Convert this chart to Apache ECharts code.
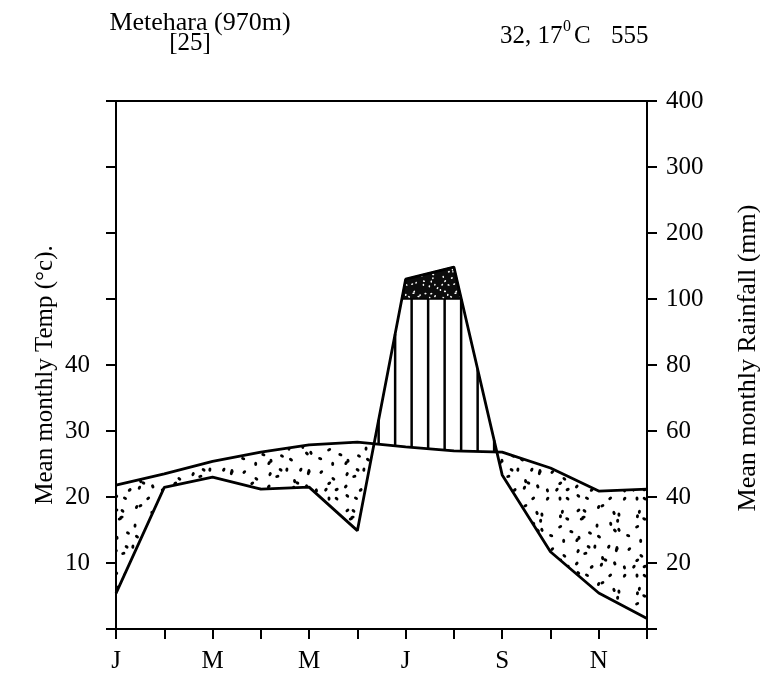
<!DOCTYPE html>
<html>
<head>
<meta charset="utf-8">
<title>Metehara climate diagram</title>
<script src="https://cdn.jsdelivr.net/npm/echarts@6/dist/echarts.min.js"></script>
<style>
  html, body { margin: 0; padding: 0; background: #fff; }
  #chart { width: 760px; height: 675px; }
</style>
</head>
<body>
<div id="chart"></div>
<script>
// Monthly climate normals, Metehara (970 m)
const months = ['Jan', 'Feb', 'Mar', 'Apr', 'May', 'Jun', 'Jul', 'Aug', 'Sep', 'Oct', 'Nov', 'Dec'];
const monthLabels = ['J', '', 'M', '', 'M', '', 'J', '', 'S', '', 'N', ''];
const temperature = [21.8, 23.5, 25.4, 26.8, 27.9, 28.3, 27.6, 27.0, 26.8, 24.4, 20.9, 21.2]; // °C
const rainfall = [10.8, 42.9, 46.0, 42.4, 43.0, 29.8, 130, 148.5, 46.7, 23.4, 10.9, 3.2];      // mm
const tempTickLabels = ['10', '20', '30', '40'];
const rainTickLabels = ['20', '40', '60', '80', '100', '200', '300', '400'];

const FONT = '"Liberation Serif", "DejaVu Serif", serif';

// Walter-Lieth scale: 10 °C = 20 mm up to 100 mm, then 10 °C = 100 mm
function rainToScale(r) {
  return r <= 100 ? r / 2 : 50 + (r - 100) / 10;
}
const rainScaled = rainfall.map(rainToScale);
const CAP = rainToScale(100);

// Textures: jittered dot grid, wrapped so the tile repeats seamlessly
function stippleCanvas(size, cell, dotColor, bg, rx, ry, seed) {
  const c = document.createElement('canvas');
  c.width = size; c.height = size;
  const g = c.getContext('2d');
  if (bg) { g.fillStyle = bg; g.fillRect(0, 0, size, size); }
  g.fillStyle = dotColor;
  let s = seed;
  const next = () => { s = (s * 16807) % 2147483647; return s / 2147483647; };
  for (let gx = 0; gx < size; gx += cell) {
    for (let gy = 0; gy < size; gy += cell) {
      const x = gx + next() * cell, y = gy + next() * cell, a = next() * Math.PI;
      for (const dx of [-size, 0, size]) {
        for (const dy of [-size, 0, size]) {
          g.beginPath();
          g.ellipse(x + dx, y + dy, rx, ry, a, 0, Math.PI * 2);
          g.fill();
        }
      }
    }
  }
  return c;
}
const dryTexture = stippleCanvas(77, 11, '#000', null, 1.5, 2.1, 12345);
const wetTexture = stippleCanvas(42, 6, '#fff', '#0c0c0c', 0.8, 1.1, 777);

// Break the year into pieces where temperature/rain order and the 100 mm cap do not change
function buildSamples() {
  const pts = [];
  const lerp = (a, b, f) => a + (b - a) * f;
  for (let i = 0; i < 12; i++) {
    pts.push({ x: i, t: temperature[i], r: rainScaled[i] });
    if (i === 11) break;
    const cuts = [];
    const d0 = rainScaled[i] - temperature[i], d1 = rainScaled[i + 1] - temperature[i + 1];
    if (d0 * d1 < 0) cuts.push(d0 / (d0 - d1));
    const e0 = rainScaled[i] - CAP, e1 = rainScaled[i + 1] - CAP;
    if (e0 * e1 < 0) cuts.push(e0 / (e0 - e1));
    cuts.sort((a, b) => a - b).forEach(f => {
      pts.push({
        x: i + f,
        t: lerp(temperature[i], temperature[i + 1], f),
        r: lerp(rainScaled[i], rainScaled[i + 1], f)
      });
    });
  }
  return pts;
}

function runs(pts, test) {
  const out = [];
  let cur = null;
  for (let k = 0; k < pts.length - 1; k++) {
    const a = pts[k], b = pts[k + 1];
    const mid = { t: (a.t + b.t) / 2, r: (a.r + b.r) / 2 };
    if (test(mid)) {
      if (!cur) { cur = [a]; out.push(cur); }
      cur.push(b);
    } else {
      cur = null;
    }
  }
  return out;
}

function interpY(chain, px) {
  for (let k = 0; k < chain.length - 1; k++) {
    const a = chain[k], b = chain[k + 1];
    if (px >= a[0] && px <= b[0]) {
      const f = b[0] === a[0] ? 0 : (px - a[0]) / (b[0] - a[0]);
      return a[1] + (b[1] - a[1]) * f;
    }
  }
  return null;
}

function renderSeasons(params, api) {
  const pts = buildSamples();
  const children = [];
  const P = (x, y) => api.coord([x, y]);

  // dry season: temperature above rain -> stipple
  runs(pts, m => m.t > m.r).forEach(run => {
    const top = run.map(p => P(p.x, p.t));
    const bot = run.map(p => P(p.x, p.r)).reverse();
    children.push({
      type: 'polygon',
      shape: { points: top.concat(bot) },
      style: { fill: { image: dryTexture, repeat: 'repeat' }, stroke: null }
    });
  });

  // humid season below 100 mm -> vertical hatching
  const step = 16.5;
  const phase = P(6, 0)[0] + 6;
  runs(pts, m => m.r > m.t).forEach(run => {
    const top = run.map(p => P(p.x, Math.min(p.r, CAP)));
    const bot = run.map(p => P(p.x, p.t));
    const x0 = top[0][0], x1 = top[top.length - 1][0];
    let px = phase - Math.ceil((phase - x0) / step) * step;
    for (; px <= x1; px += step) {
      if (px < x0) continue;
      const yt = interpY(top, px), yb = interpY(bot, px);
      if (yt === null || yb === null) continue;
      children.push({
        type: 'line',
        shape: { x1: px, y1: yb, x2: px, y2: yt },
        style: { stroke: '#000', lineWidth: 2.5 }
      });
    }
  });

  // rain above 100 mm -> solid dark fill
  runs(pts, m => m.r > CAP).forEach(run => {
    const top = run.map(p => P(p.x, p.r));
    const bot = run.map(p => P(p.x, CAP)).reverse();
    children.push({
      type: 'polygon',
      shape: { points: top.concat(bot) },
      style: { fill: { image: wetTexture, repeat: 'repeat' }, stroke: '#000', lineWidth: 1.5 }
    });
  });

  return { type: 'group', children };
}

const axisLine = { show: true, lineStyle: { color: '#000', width: 2 } };
const axisTick = { show: true, inside: false, length: 10, lineStyle: { color: '#000', width: 2 } };
const labelStyle = { color: '#000', fontFamily: FONT, fontSize: 25 };

const chart = echarts.init(document.getElementById('chart'), null, { renderer: 'canvas' });
chart.setOption({
  animation: false,
  backgroundColor: '#fff',
  grid: {
    left: 116, right: 113, top: 101, bottom: 46,
    show: true, borderColor: '#000', borderWidth: 2, backgroundColor: 'transparent'
  },
  xAxis: {
    type: 'value', min: 0, max: 11, interval: 1,
    axisLine, axisTick,
    splitLine: { show: false },
    axisLabel: Object.assign({}, labelStyle, {
      margin: 20,
      showMinLabel: true, showMaxLabel: true,
      formatter: v => monthLabels[v] || ''
    })
  },
  yAxis: [
    {
      type: 'value', min: 0, max: 80, interval: 10, position: 'left',
      axisLine, axisTick,
      splitLine: { show: false },
      axisLabel: Object.assign({}, labelStyle, {
        margin: 26,
        formatter: v => (v >= 10 && v <= 40) ? tempTickLabels[v / 10 - 1] : ''
      })
    },
    {
      type: 'value', min: 0, max: 80, interval: 10, position: 'right',
      axisLine, axisTick,
      splitLine: { show: false },
      axisLabel: Object.assign({}, labelStyle, {
        margin: 19,
        formatter: v => v > 0 ? rainTickLabels[v / 10 - 1] : ''
      })
    }
  ],
  series: [
    {
      name: 'seasons',
      type: 'custom',
      renderItem: renderSeasons,
      data: [[0, 0]],
      clip: true,
      silent: true,
      z: 1
    },
    {
      name: 'Mean monthly Temp',
      type: 'line',
      data: months.map((m, i) => [i, temperature[i]]),
      symbol: 'none',
      lineStyle: { color: '#000', width: 2.8 },
      z: 3
    },
    {
      name: 'Mean monthly Rainfall',
      type: 'line',
      data: months.map((m, i) => [i, rainScaled[i]]),
      symbol: 'none',
      lineStyle: { color: '#000', width: 2.8 },
      z: 3
    }
  ],
  graphic: [
    { type: 'text', x: 200, y: 23, style: { text: 'Metehara (970m)', font: '26px ' + FONT, fill: '#000', textAlign: 'center', textVerticalAlign: 'middle', align: 'center', verticalAlign: 'middle' } },
    { type: 'text', x: 190, y: 43, style: { text: '[25]', font: '25px ' + FONT, fill: '#000', textAlign: 'center', textVerticalAlign: 'middle', align: 'center', verticalAlign: 'middle' } },
    { type: 'text', x: 500, y: 36, style: { text: '32, 17', font: '25px ' + FONT, fill: '#000', textAlign: 'left', textVerticalAlign: 'middle', align: 'left', verticalAlign: 'middle' } },
    { type: 'text', x: 563, y: 27, style: { text: '0', font: '16px ' + FONT, fill: '#000', textAlign: 'left', textVerticalAlign: 'middle', align: 'left', verticalAlign: 'middle' } },
    { type: 'text', x: 574, y: 36, style: { text: 'C', font: '25px ' + FONT, fill: '#000', textAlign: 'left', textVerticalAlign: 'middle', align: 'left', verticalAlign: 'middle' } },
    { type: 'text', x: 611, y: 36, style: { text: '555', font: '25px ' + FONT, fill: '#000', textAlign: 'left', textVerticalAlign: 'middle', align: 'left', verticalAlign: 'middle' } },
    { type: 'text', x: 45, y: 375, rotation: Math.PI / 2, style: { text: 'Mean monthly Temp (°c).', font: '25px ' + FONT, fill: '#000', textAlign: 'center', textVerticalAlign: 'middle', align: 'center', verticalAlign: 'middle' } },
    { type: 'text', x: 748, y: 358, rotation: Math.PI / 2, style: { text: 'Mean monthly Rainfall (mm)', font: '26px ' + FONT, fill: '#000', textAlign: 'center', textVerticalAlign: 'middle', align: 'center', verticalAlign: 'middle' } }
  ]
});
</script>
</body>
</html>
